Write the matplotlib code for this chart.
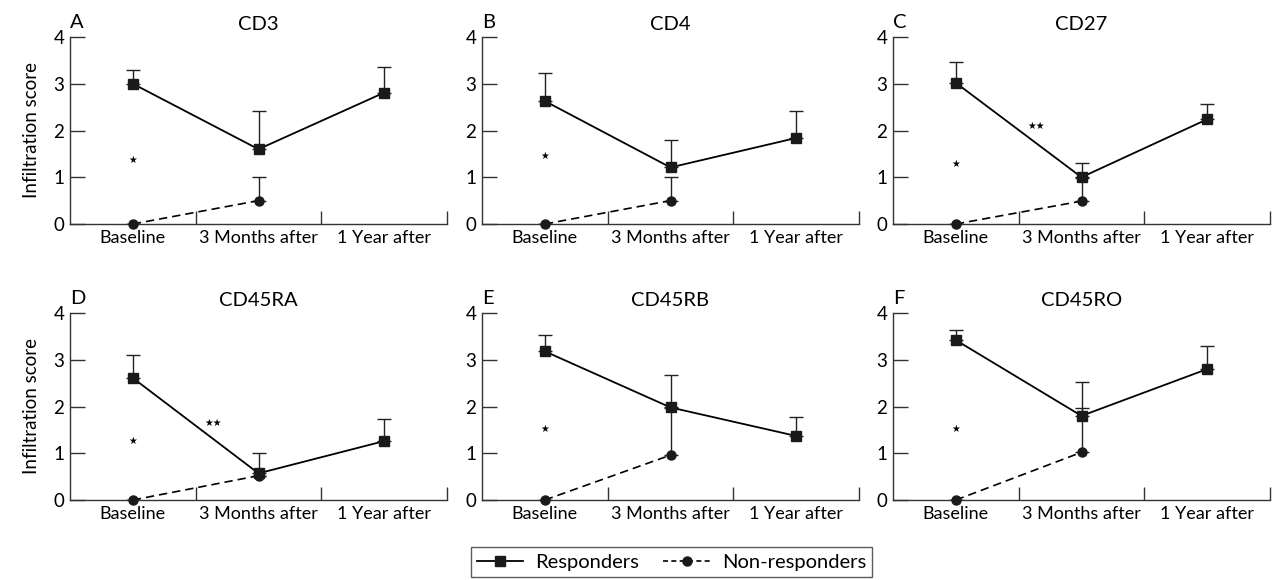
import matplotlib
matplotlib.use("Agg")
import matplotlib.pyplot as plt
from matplotlib.lines import Line2D

plt.rcParams['font.family'] = ['Lato', 'DejaVu Sans']

categories = ["Baseline", "3 Months after", "1 Year after"]
panel_letters = ["A", "B", "C", "D", "E", "F"]
markers = ["CD3", "CD4", "CD27", "CD45RA", "CD45RB", "CD45RO"]

resp_mean = {
    "CD3":    [3.00, 1.60, 2.81],
    "CD4":    [2.63, 1.21, 1.84],
    "CD27":   [3.02, 1.00, 2.24],
    "CD45RA": [2.61, 0.57, 1.26],
    "CD45RB": [3.18, 1.98, 1.37],
    "CD45RO": [3.42, 1.80, 2.80],
}
resp_err = {
    "CD3":    [0.30, 0.82, 0.55],
    "CD4":    [0.61, 0.59, 0.58],
    "CD27":   [0.44, 0.30, 0.33],
    "CD45RA": [0.50, 0.43, 0.47],
    "CD45RB": [0.35, 0.69, 0.41],
    "CD45RO": [0.22, 0.73, 0.50],
}
nonresp_mean = {
    "CD3":    [0.0, 0.50],
    "CD4":    [0.0, 0.50],
    "CD27":   [0.0, 0.49],
    "CD45RA": [0.0, 0.52],
    "CD45RB": [0.0, 0.96],
    "CD45RO": [0.0, 1.02],
}
nonresp_err = {
    "CD3":    [0.0, 0.50],
    "CD4":    [0.0, 0.51],
    "CD27":   [0.0, 0.50],
    "CD45RA": [0.0, 0.00],
    "CD45RB": [0.0, 1.00],
    "CD45RO": [0.0, 0.95],
}
single_star_y = {"CD3": 1.38, "CD4": 1.45, "CD27": 1.28, "CD45RA": 1.26,
                 "CD45RB": 1.52, "CD45RO": 1.51}
double_star = {"CD27": (1.14, 2.10), "CD45RA": (1.14, 1.64)}

W, H = 1273, 580
fig = plt.figure(figsize=(W / 100, H / 100), dpi=100)

lefts_px = [70, 482, 893]
rows_px = [(37, 224), (313, 500)]
width_px = 377

xc = [0.5, 1.5, 2.5]
spine_col = "#333333"

for i, name in enumerate(markers):
    r, c = divmod(i, 3)
    top, bot = rows_px[r]
    ax = fig.add_axes([lefts_px[c] / W, 1 - bot / H, width_px / W, (bot - top) / H])
    ax.set_xlim(0, 3)
    ax.set_ylim(0, 4)
    for s in ["top", "right"]:
        ax.spines[s].set_visible(False)
    for s in ["left", "bottom"]:
        ax.spines[s].set_color(spine_col)
        ax.spines[s].set_linewidth(1.0)

    ax.errorbar(xc, resp_mean[name], yerr=[[0] * 3, resp_err[name]], fmt="none",
                ecolor="#222222", elinewidth=1.0, capsize=5, capthick=1.0, zorder=2)
    ax.plot(xc, resp_mean[name], color="black", lw=1.3, marker="s", ms=6.5,
            mfc="#1a1a1a", mec="#1a1a1a", zorder=3)
    ax.errorbar(xc[:2], nonresp_mean[name], yerr=[[0] * 2, nonresp_err[name]], fmt="none",
                ecolor="#222222", elinewidth=1.0, capsize=5, capthick=1.0, zorder=2)
    ax.plot(xc[:2], nonresp_mean[name], color="black", lw=1.2, ls=(0, (5, 3)), marker="o",
            ms=6.5, mfc="#1a1a1a", mec="#1a1a1a", zorder=3, clip_on=False)

    ax.text(xc[0], single_star_y[name], "★", ha="center", va="center", fontsize=7,
            family="DejaVu Sans")
    if name in double_star:
        dx, dy = double_star[name]
        ax.text(dx, dy, "★★", ha="center", va="center", fontsize=7, family="DejaVu Sans")

    ax.set_xticks([1, 2, 3])
    ax.set_xticklabels([])
    ax.tick_params(axis="x", which="major", direction="in", length=9.5, width=1.0,
                   color=spine_col)
    ax.set_xticks(xc, minor=True)
    ax.set_xticklabels(categories, minor=True)
    ax.tick_params(axis="x", which="minor", length=0, labelsize=13, pad=4)
    ax.set_yticks([0, 1, 2, 3, 4])
    ax.tick_params(axis="y", direction="in", length=10.5, width=1.0, color=spine_col,
                   labelsize=13.5, pad=4)

    ax.set_title(name, fontsize=14.5, pad=5)
    ax.text(0.0, 1.03, panel_letters[i], transform=ax.transAxes, ha="left",
            va="bottom", fontsize=14.5)
    if c == 0:
        ax.set_ylabel("Infiltration score", fontsize=13.5, labelpad=10)

handles = [
    Line2D([], [], color="black", lw=1.3, marker="s", ms=6.5, mfc="#1a1a1a", mec="#1a1a1a"),
    Line2D([], [], color="black", lw=1.2, ls=(0, (3, 2)), marker="o", ms=6.5,
           mfc="#1a1a1a", mec="#1a1a1a"),
]
leg = fig.legend(handles, ["Responders", "Non-responders"], loc="center",
                 bbox_to_anchor=(0.5275, 0.031), ncol=2, fontsize=14.5, frameon=True,
                 fancybox=False, edgecolor="#333333", handlelength=2.3,
                 handletextpad=0.6, columnspacing=1.2, borderpad=0.3)
leg.get_frame().set_linewidth(1.0)

fig.savefig("out.png", dpi=100)
